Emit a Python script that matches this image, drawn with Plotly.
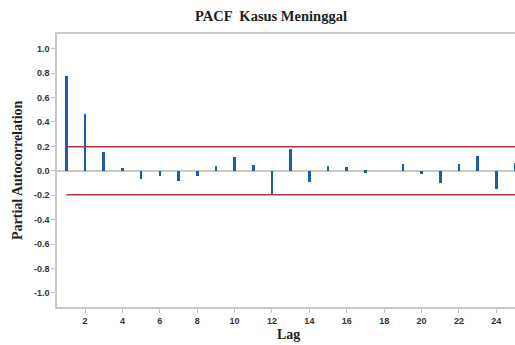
import plotly.graph_objects as go

lags = list(range(1, 26))
pacf = [0.775, 0.466, 0.156, 0.025, -0.063, -0.040, -0.080, -0.040, 0.041, 0.112,
        0.049, -0.186, 0.181, -0.088, 0.041, 0.033, -0.014, 0.000, 0.058, -0.025,
        -0.096, 0.058, 0.121, -0.145, 0.066]
conf_limit = 0.197
x_ticks = [2, 4, 6, 8, 10, 12, 14, 16, 18, 20, 22, 24]
y_ticks = [1.0, 0.8, 0.6, 0.4, 0.2, 0.0, -0.2, -0.4, -0.6, -0.8, -1.0]
y_ticklabels = ["1.0", "0.8", "0.6", "0.4", "0.2", "0.0", "-0.2", "-0.4", "-0.6", "-0.8", "-1.0"]

x_range = [0.5, 25.0]

fig = go.Figure()
fig.add_trace(go.Bar(x=lags, y=pacf, width=0.14, marker=dict(color="#1E5BA8", line=dict(width=0)),
                     showlegend=False))
for lim in (conf_limit, -conf_limit):
    fig.add_trace(go.Scatter(x=[lags[0], lags[-1] + 1], y=[lim, lim], mode="lines",
                             line=dict(color="#A83838", width=1.5), showlegend=False,
                             hoverinfo="skip"))

sans = "Liberation Sans, Arial, sans-serif"
serif = "Liberation Serif, Times New Roman, serif"

W, H = 515, 345
L, T, B = 57, 34, 38
PW, PH = W - L, H - T - B
fig.update_layout(
    width=W, height=H,
    margin=dict(l=L, r=0, t=T, b=B, autoexpand=False),
    paper_bgcolor="white", plot_bgcolor="white",
    title=dict(text="PACF  Kasus Meninggal", x=271 / W, xanchor="center",
               y=1 - 16 / H, yanchor="middle",
               font=dict(family=serif, size=14.5, color="#222222", weight="bold")),
    bargap=0,
    annotations=[
        dict(text="Lag", xref="paper", yref="paper", x=(288 - L) / PW,
             y=-(334 - (H - B)) / PH, xanchor="center", yanchor="middle", showarrow=False,
             font=dict(family=serif, size=14, color="#222222", weight="bold")),
        dict(text="Partial Autocorrelation", xref="paper", yref="paper",
             x=-(L - 17) / PW, y=((H - B) - 170) / PH, xanchor="center",
             yanchor="middle", textangle=-90, showarrow=False,
             font=dict(family=serif, size=14, color="#222222", weight="bold")),
    ],
)
fig.update_xaxes(
    range=x_range, tickvals=x_ticks, ticks="outside", ticklen=4, tickcolor="#c0c0c0",
    tickwidth=1, showgrid=False, zeroline=False, showline=True, linecolor="#c8c8c8",
    linewidth=1.5, mirror=True, automargin=False,
    tickfont=dict(family=sans, size=9, color="#333333", weight="bold"),
)
fig.update_yaxes(
    range=[-1.115, 1.12], tickvals=y_ticks, ticktext=y_ticklabels, ticks="outside",
    ticklen=4, tickcolor="#c0c0c0", tickwidth=1, showgrid=False,
    zeroline=True, zerolinecolor="#c8c8c8", zerolinewidth=1.5,
    showline=True, linecolor="#c8c8c8", linewidth=1.5, automargin=False,
    tickfont=dict(family=sans, size=9, color="#333333", weight="bold"),
)

fig.write_html("out.html", config={"displayModeBar": False},
               post_script="document.body.style.margin='0px';document.body.style.overflow='hidden';")
